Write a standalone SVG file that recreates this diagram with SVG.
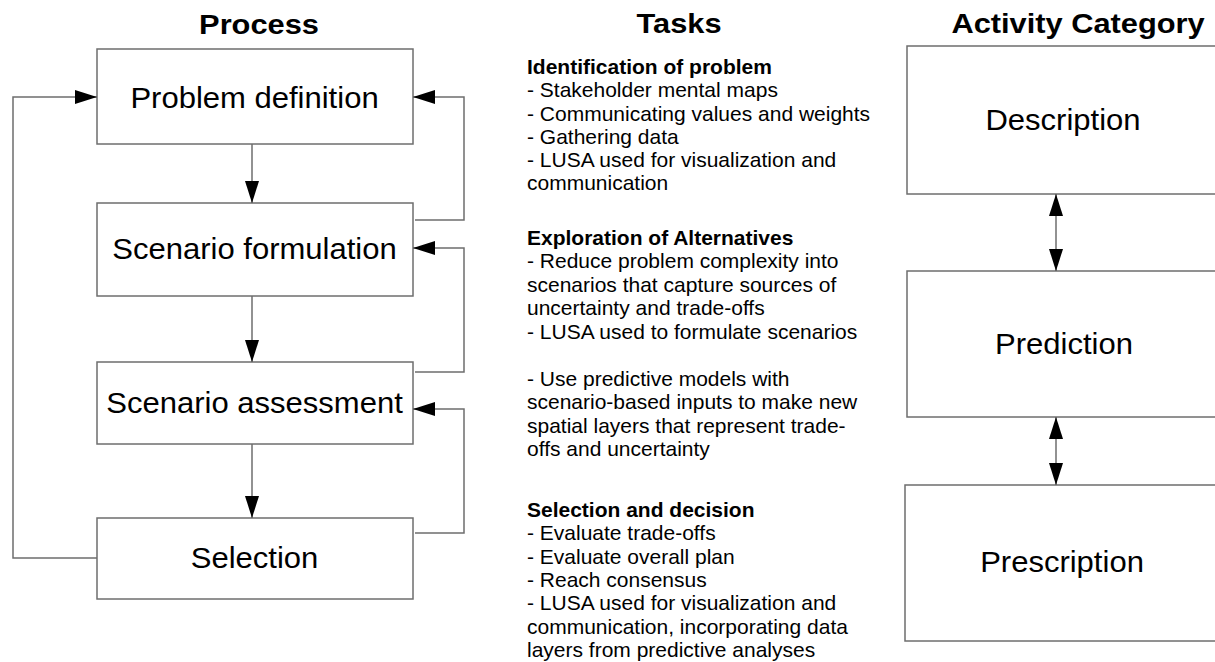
<svg xmlns="http://www.w3.org/2000/svg" width="1215" height="662" viewBox="0 0 1215 662">
  <style>
    .box { fill: #ffffff; stroke: #6e6e6e; stroke-width: 1.5; }
    .wire { fill: none; stroke: #6e6e6e; stroke-width: 1.5; }
    .title { font-family: "Liberation Sans", Arial, sans-serif; font-weight: bold; font-size: 28px; fill: #000; text-anchor: middle; }
    .label { font-family: "Liberation Sans", Arial, sans-serif; font-size: 29px; fill: #000; text-anchor: middle; }
    .task { font-family: "Liberation Sans", Arial, sans-serif; font-size: 20px; fill: #000; }
    .task .head { font-weight: bold; }
  </style>
  <defs>
    <marker id="arrow" viewBox="0 0 22 14" markerUnits="userSpaceOnUse" markerWidth="22" markerHeight="14" refX="22" refY="7" orient="auto-start-reverse">
      <path d="M0,0 L22,7 L0,14 Z" fill="#000"/>
    </marker>
  </defs>
  <rect width="1215" height="662" fill="#ffffff"/>

  <!-- column headings -->
  <g id="headings">
    <text class="title" transform="translate(259,34) scale(1.1,1)">Process</text>
    <text class="title" transform="translate(679,33) scale(1.1,1)">Tasks</text>
    <text class="title" transform="translate(1078,33) scale(1.1,1)">Activity Category</text>
  </g>

  <!-- process steps -->
  <g id="problem-definition">
    <rect class="box" x="97" y="49" width="316" height="95"/>
    <text class="label" transform="translate(254.5,108) scale(1.07,1)">Problem definition</text>
  </g>
  <g id="scenario-formulation">
    <rect class="box" x="97" y="203" width="316" height="93"/>
    <text class="label" transform="translate(254.5,259) scale(1.07,1)">Scenario formulation</text>
  </g>
  <g id="scenario-assessment">
    <rect class="box" x="97" y="362" width="316" height="82"/>
    <text class="label" transform="translate(254.5,413) scale(1.07,1)">Scenario assessment</text>
  </g>
  <g id="selection">
    <rect class="box" x="97" y="518" width="316" height="81"/>
    <text class="label" transform="translate(254.5,568) scale(1.07,1)">Selection</text>
  </g>

  <!-- activity categories -->
  <g id="description">
    <rect class="box" x="907" y="46" width="330" height="148"/>
    <text class="label" transform="translate(1063,130) scale(1.07,1)">Description</text>
  </g>
  <g id="prediction">
    <rect class="box" x="907" y="271" width="330" height="146"/>
    <text class="label" transform="translate(1064,354) scale(1.07,1)">Prediction</text>
  </g>
  <g id="prescription">
    <rect class="box" x="905" y="485" width="332" height="156"/>
    <text class="label" transform="translate(1062,572) scale(1.07,1)">Prescription</text>
  </g>

  <!-- task lists -->
  <g id="tasks" class="task" transform="translate(527,0) scale(1.05,1)">
    <text x="0" y="74" class="head">Identification of problem</text>
    <text x="0" y="97.3">- Stakeholder mental maps</text>
    <text x="0" y="120.6">- Communicating values and weights</text>
    <text x="0" y="143.9">- Gathering data</text>
    <text x="0" y="167.2">- LUSA used for visualization and</text>
    <text x="0" y="190.5">communication</text>

    <text x="0" y="245" class="head">Exploration of Alternatives</text>
    <text x="0" y="268.5">- Reduce problem complexity into</text>
    <text x="0" y="292">scenarios that capture sources of</text>
    <text x="0" y="315.5">uncertainty and trade-offs</text>
    <text x="0" y="339">- LUSA used to formulate scenarios</text>
    <text x="0" y="386">- Use predictive models with</text>
    <text x="0" y="409.5">scenario-based inputs to make new</text>
    <text x="0" y="433">spatial layers that represent trade-</text>
    <text x="0" y="456.5">offs and uncertainty</text>

    <text x="0" y="517" class="head">Selection and decision</text>
    <text x="0" y="540.3">- Evaluate trade-offs</text>
    <text x="0" y="563.6">- Evaluate overall plan</text>
    <text x="0" y="587">- Reach consensus</text>
    <text x="0" y="610.3">- LUSA used for visualization and</text>
    <text x="0" y="633.6">communication, incorporating data</text>
    <text x="0" y="657">layers from predictive analyses</text>
  </g>

  <!-- connectors -->
  <g id="connectors" class="wire">
    <!-- forward flow -->
    <path class="wire" d="M252,144 V203" marker-end="url(#arrow)"/>
    <path class="wire" d="M252,296 V362" marker-end="url(#arrow)"/>
    <path class="wire" d="M252,444 V518" marker-end="url(#arrow)"/>
    <!-- feedback loops on the right -->
    <path class="wire" d="M415,220 H464 V97 H413" marker-end="url(#arrow)"/>
    <path class="wire" d="M415,372 H464 V248 H413" marker-end="url(#arrow)"/>
    <path class="wire" d="M415,533 H464 V409 H413" marker-end="url(#arrow)"/>
    <!-- return from selection to problem definition -->
    <path class="wire" d="M97,558 H13 V97 H97" marker-end="url(#arrow)"/>
    <!-- links between activity categories -->
    <path class="wire" d="M1056,194 V271" marker-start="url(#arrow)" marker-end="url(#arrow)"/>
    <path class="wire" d="M1056,417 V485" marker-start="url(#arrow)" marker-end="url(#arrow)"/>
  </g>
</svg>
